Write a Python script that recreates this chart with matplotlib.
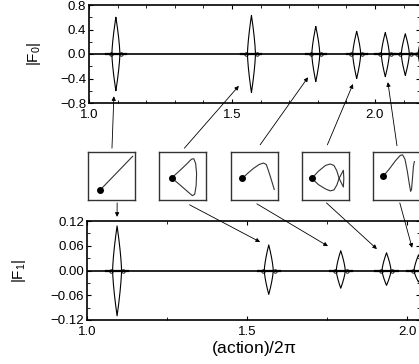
import matplotlib
matplotlib.use('Agg')
import matplotlib.pyplot as plt
import numpy as np
from matplotlib.ticker import MultipleLocator, FixedLocator

plt.rcParams['font.family'] = ['Liberation Sans', 'DejaVu Sans']
plt.rcParams['mathtext.default'] = 'regular'

#%% data
# peak centres in (action)/2pi and the up/down extent of each wave packet
peak_x = [1.094, 1.568, 1.793, 1.936, 2.036, 2.106, 2.165]
f0_up = [0.60, 0.63, 0.45, 0.37, 0.35, 0.33, 0.30]
f0_dn = [-0.60, -0.63, -0.45, -0.40, -0.37, -0.35, -0.30]
f1_up = [0.108, 0.062, 0.048, 0.043, 0.038, 0.035, 0.030]
f1_dn = [-0.110, -0.058, -0.043, -0.036, -0.028, -0.026, -0.024]
half_w = 0.014

# periodic orbits drawn in the small boxes (unit box coords), first point = dot
orbit_1 = [(0.26, 0.21), (0.95, 0.91)]
orbit_2 = [(0.27, 0.46), (0.45, 0.62), (0.60, 0.76), (0.69, 0.85), (0.74, 0.86),
           (0.78, 0.76), (0.80, 0.55), (0.79, 0.30), (0.76, 0.12), (0.71, 0.09),
           (0.58, 0.20), (0.44, 0.32), (0.27, 0.46)]
orbit_3 = [(0.24, 0.45), (0.36, 0.56), (0.48, 0.66), (0.60, 0.74), (0.69, 0.77),
           (0.75, 0.74), (0.79, 0.63), (0.84, 0.48), (0.88, 0.35), (0.92, 0.22)]
orbit_4 = [(0.21, 0.45), (0.35, 0.60), (0.50, 0.72), (0.60, 0.75), (0.68, 0.72),
           (0.74, 0.61), (0.79, 0.45), (0.88, 0.62), (0.89, 0.45), (0.88, 0.27),
           (0.79, 0.45), (0.74, 0.31), (0.68, 0.21), (0.60, 0.19), (0.50, 0.23),
           (0.35, 0.32), (0.21, 0.45)]
orbit_5 = [(0.22, 0.50), (0.35, 0.65), (0.48, 0.82), (0.58, 0.93), (0.63, 0.94),
           (0.68, 0.85), (0.73, 0.60), (0.77, 0.35), (0.80, 0.18), (0.82, 0.22),
           (0.84, 0.45), (0.86, 0.70), (0.88, 0.80)]
orbits = [orbit_1, orbit_2, orbit_3, orbit_4, orbit_5]

# arrows: (tail in box coords) -> (head in data coords)
top_tail = [(0.51, 1.08), (0.54, 1.08), (0.62, 1.15), (0.54, 1.15), (0.51, 1.13)]
top_head = [(1.087, -0.69), (1.524, -0.52), (1.766, -0.38), (1.923, -0.49), (2.045, -0.46)]
bot_tail = [(0.62, -0.06), (0.65, -0.10), (0.55, -0.08), (0.52, -0.06), (0.57, -0.06)]
bot_head = [(1.094, 0.130), (1.541, 0.069), (1.753, 0.059), (1.906, 0.052), (2.016, 0.055)]

#%% fig
W, H = 419, 364
fig = plt.figure(figsize=(W / 100, H / 100), dpi=100)

def px_axes(l, t, r, b):
    return fig.add_axes([l / W, 1 - b / H, (r - l) / W, (b - t) / H])

ax0 = px_axes(89, 5, 420, 103)
ax1 = px_axes(87, 221, 420, 320)

def draw_packets(ax, ups, dns, xmin, xmax):
    ax.plot([xmin, xmax], [0, 0], c='k', lw=1.2)
    for xc, a, b in zip(peak_x, ups, dns):
        u = np.linspace(-1, 1, 201)
        env = (1 - np.abs(u)) ** 0.7
        ax.plot(xc + half_w * u, a * env, c='k', lw=0.8)
        ax.plot(xc + half_w * u, b * env, c='k', lw=0.8)
        ax.plot([xc - 2.5 * half_w, xc + 2.5 * half_w], [0, 0], c='k', lw=1.6)
        ax.plot([xc - 1.3 * half_w, xc + 1.3 * half_w], [0, 0], ls='none',
                marker='o', ms=2.5, mfc='none', mec='k', mew=0.6)

draw_packets(ax0, f0_up, f0_dn, 1.0, 2.2)
draw_packets(ax1, f1_up, f1_dn, 1.0, 2.2)

ax0.set_xlim(1.0, 1.0 + 331 / 286)
ax0.set_ylim(-0.8, 0.8)
ax0.xaxis.set_major_locator(FixedLocator([1.0, 1.5, 2.0]))
ax0.xaxis.set_minor_locator(MultipleLocator(0.1))
ax0.set_yticks([-0.8, -0.4, 0.0, 0.4, 0.8])
ax0.set_yticklabels(['\u22120.8', '\u22120.4', '0.0', '0.4', '0.8'])
ax0.yaxis.set_minor_locator(MultipleLocator(0.2))
ax0.set_ylabel('|F$_0$|', fontsize=11)
ax0.yaxis.set_label_coords(-46 / 331, 0.5)

ax1.set_xlim(1.0, 1.0 + 333 / 320)
ax1.set_ylim(-0.12, 0.12)
ax1.xaxis.set_major_locator(FixedLocator([1.0, 1.5, 2.0]))
ax1.xaxis.set_minor_locator(MultipleLocator(0.25))
ax1.set_yticks([0.12, 0.06, 0.0, -0.06, -0.12])
ax1.set_yticklabels(['0.12', '0.06', '0.00', '\u22120.06', '\u22120.12'])
ax1.yaxis.set_minor_locator(MultipleLocator(0.03))
ax1.set_ylabel('|F$_1$|', fontsize=11)
ax1.yaxis.set_label_coords(-59 / 333, 0.5)
ax1.set_xlabel('(action)/2$\\pi$', fontsize=12.5, labelpad=1)

for ax in (ax0, ax1):
    ax.tick_params(which='both', direction='in', top=True, right=True,
                   labelsize=9.5)
    ax.tick_params(axis='y', pad=2)
    ax.tick_params(axis='x', pad=4)
    ax.tick_params(which='major', length=3)
    ax.tick_params(which='minor', length=2)
    for s in ax.spines.values():
        s.set_linewidth(1.2)

# small boxes with orbits
box_left = [88, 159, 231, 302, 373]
boxes = []
for bl, orb in zip(box_left, orbits):
    bx = px_axes(bl, 152, bl + 47, 200)
    bx.set_xlim(0, 1)
    bx.set_ylim(0, 1)
    bx.set_xticks([])
    bx.set_yticks([])
    for s in bx.spines.values():
        s.set_linewidth(1.0)
        s.set_color('#333333')
    ox = [p[0] for p in orb]
    oy = [p[1] for p in orb]
    bx.plot(ox, oy, c='#333333', lw=0.8)
    bx.plot(ox[0], oy[0], 'o', c='k', ms=4)
    boxes.append(bx)

arrow_kw = dict(arrowstyle='-|>', lw=0.6, color='k', shrinkA=0, shrinkB=0,
                mutation_scale=6)
for bx, tail, head in zip(boxes, top_tail, top_head):
    ax0.annotate('', xy=head, xycoords='data', xytext=tail,
                 textcoords=bx.transAxes, arrowprops=arrow_kw,
                 annotation_clip=False)
for bx, tail, head in zip(boxes, bot_tail, bot_head):
    ax1.annotate('', xy=head, xycoords='data', xytext=tail,
                 textcoords=bx.transAxes, arrowprops=arrow_kw,
                 annotation_clip=False)

plt.savefig('out.png', dpi=100)
